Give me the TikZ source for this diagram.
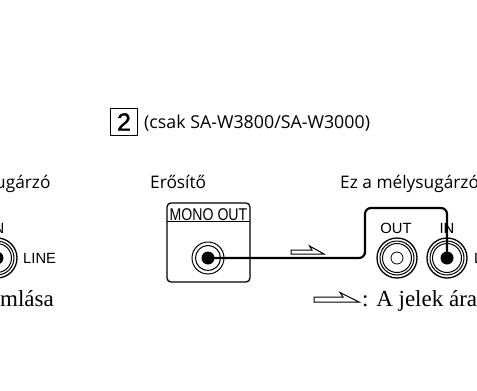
\documentclass[tikz,border=0pt]{standalone}
\usepackage{fontspec}
\setmainfont{Open Sans}
\newfontfamily\lab{Liberation Sans}
\newfontfamily\labb[FakeBold=1.6]{Liberation Sans}
\newfontfamily\ser{Liberation Serif}
\tikzset{
  x=1pt,y=-1pt,
  txt/.style={inner sep=0pt,anchor=base west,font=\fontsize{17.3}{20}\selectfont},
  big/.style={inner sep=0pt,anchor=base west,font=\ser\fontsize{23}{25}\selectfont},
  small/.style={inner sep=0pt,anchor=center,font=\lab\fontsize{14.8}{17}\selectfont},
  ring/.style={draw=black,line width=1pt,circle,inner sep=0pt,fill=white},
  dotc/.style={fill=black,circle,inner sep=0pt,minimum size=13pt},
  flow/.style={draw=black,line width=1pt,fill=white},
  cable/.style={draw=black,line width=2.2pt,rounded corners=6pt},
}
\newcommand{\jack}[3]{% name, x, outer radius
  \node[ring,minimum size=40pt,line width=1.3pt] (#1o) at (#2,258) {};
  \node[ring,minimum size=34pt] at (#2,258) {};
  \node[ring,minimum size=29pt] (#1) at (#2,258) {};
}
\begin{document}
\begin{tikzpicture}
\useasboundingbox (0,0) rectangle (477,391);
\clip (0,0) rectangle (477,391);
\node[draw=black,line width=1.3pt,minimum width=27pt,minimum height=27pt,inner sep=0pt,font=\labb\fontsize{25}{27}\selectfont] (num) at (124,122) {2};
\node[txt,font=\fontsize{17.8}{20}\selectfont] (cap) at (144,128) {(csak SA-W3800/SA-W3000)};
\node[txt] (t1) at (-5,188) {ugárzó};
\node[txt] (t2) at (150,188) {Erősítő};
\node[txt] (t3) at (340,188) {Ez a mélysugárzó};
% amplifier
\draw[line width=1.3pt,rounded corners=4pt] (167,203) rectangle (250,282);
\draw[line width=0.8pt] (167,221) -- (250,221);
\node[inner sep=0pt,anchor=base,font=\lab\fontsize{17}{19}\selectfont,xscale=0.83] (mono) at (208.5,220) {MONO OUT};
\node[ring,minimum size=32pt] (a1) at (208,258) {};
\node[ring,minimum size=25pt] (a2) at (208,258) {};
\node[dotc] (adot) at (208,258) {};
% left jack
\jack{lj}{-3}{20}
\node[dotc] at (-3,258) {};
\node[small] (lin) at (-3,228) {IN};
\node[small,anchor=west] (lline) at (23,258) {LINE};
% right jacks
\jack{oj}{397}{20}
\node[ring,minimum size=12pt,line width=.8pt] (oc) at (397,258) {};
\jack{ij}{447}{20}
\node[dotc] (idot) at (447,258) {};
\node[small] (olab) at (396,228) {OUT};
\node[small] (ilab) at (447,228) {IN};
\node[small,anchor=west] (rline) at (474,258) {LINE};
% cable
\coordinate (c1) at (365,258);
\coordinate (c2) at (365,208);
\coordinate (c3) at (447,208);
\draw[cable] (adot.center) -- (c1) -- (c2) -- (c3) -- (idot.center);
% flow arrows
\draw[flow] (291,250) -- (312,250) -- (309.5,246) -- (324,254) -- (291,254) -- cycle;
\draw[flow] (314,297) -- (343,297) -- (340,292.5) -- (359,302) -- (314,302) -- cycle;
\node[big] (t4) at (362,306) {: A jelek ára};
\node[big] (t5) at (0,306) {mlása};
\end{tikzpicture}
\end{document}
